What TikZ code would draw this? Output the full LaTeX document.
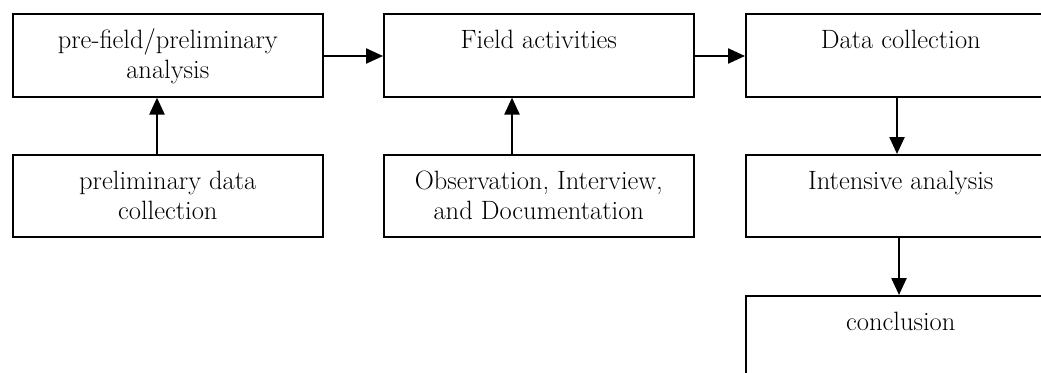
\documentclass[tikz,border=0pt]{standalone}
\usetikzlibrary{arrows.meta}
\newcommand\bxtext[2]{\parbox[t][#1][t]{310pt}{\centering\rule{0pt}{35pt}#2}}
\begin{document}
\begin{tikzpicture}[x=1pt,y=-1pt,
  stepbox/.style={draw,line width=1.6pt,rectangle,inner sep=0pt,anchor=north west,
    font=\fontsize{26.5}{30}\selectfont},
  arr/.style={line width=2.4pt,-{Triangle[length=17pt,width=15pt]}}]
\useasboundingbox (0,0) rectangle (1041,372);
\clip (0,0) rectangle (1041,372);
\node[stepbox] (a) at (12,13) {\bxtext{83pt}{pre-field/preliminary\\analysis}};
\node[stepbox] (b) at (383,13) {\bxtext{83pt}{Field activities}};
\node[stepbox] (c) at (745,13) {\bxtext{83pt}{Data collection}};
\node[stepbox] (d) at (12,154) {\bxtext{82pt}{preliminary data\\collection}};
\node[stepbox] (e) at (383,154) {\bxtext{82pt}{Observation, Interview,\\and Documentation}};
\node[stepbox] (f) at (745,154) {\bxtext{82pt}{Intensive analysis}};
\node[stepbox] (g) at (745,295) {\bxtext{90pt}{conclusion}};
\draw[arr] ([xshift=145pt]d.north west) -- ([xshift=145pt]a.south west);
\draw[arr] ([xshift=129pt]e.north west) -- ([xshift=129pt]b.south west);
\draw[arr] ([yshift=-43pt]a.north east) -- ([yshift=-43pt]b.north west);
\draw[arr] ([yshift=-43pt]b.north east) -- ([yshift=-43pt]c.north west);
\draw[arr] ([xshift=152pt]c.south west) -- ([xshift=152pt]f.north west);
\draw[arr] ([xshift=154pt]f.south west) -- ([xshift=154pt]g.north west);
\end{tikzpicture}
\end{document}
